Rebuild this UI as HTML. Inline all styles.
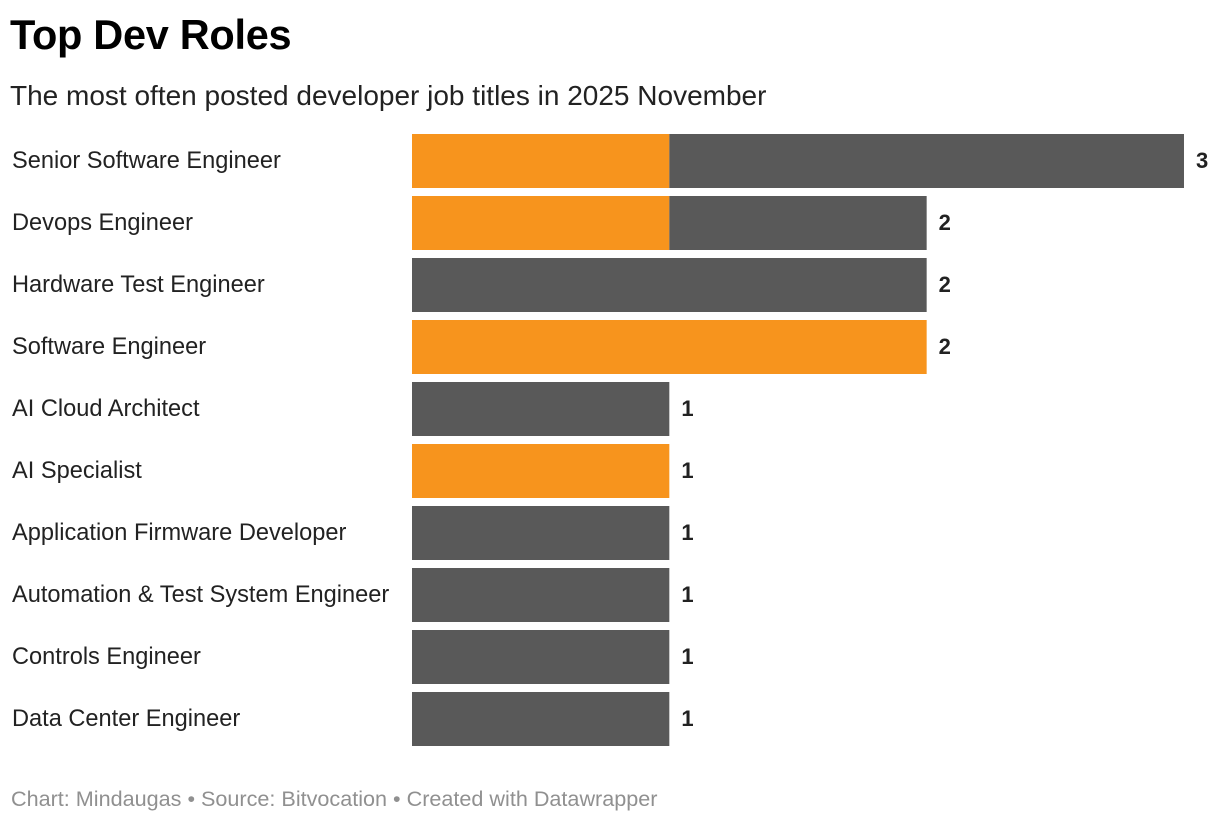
<!DOCTYPE html>
<html><head><meta charset="utf-8">
<style>
body{margin:0;background:#fff;width:1220px;height:822px;overflow:hidden;font-family:"Liberation Sans",Arial,sans-serif;}
#title{position:absolute;left:10px;top:11px;font-size:41.5px;font-weight:bold;color:#000;letter-spacing:-0.3px}
#sub{position:absolute;left:10px;top:80px;font-size:28px;color:#222}
#foot{position:absolute;left:11px;top:786px;font-size:21.6px;color:#909090}
svg{position:absolute;left:0;top:0}
</style></head><body>
<div id="title">Top Dev Roles</div>
<div id="sub">The most often posted developer job titles in 2025 November</div>
<svg id="chart" width="1220" height="822"></svg>
<div id="foot">Chart: Mindaugas • Source: Bitvocation • Created with Datawrapper</div>
<script>
const categories=["Senior Software Engineer","Devops Engineer","Hardware Test Engineer","Software Engineer","AI Cloud Architect","AI Specialist","Application Firmware Developer","Automation & Test System Engineer","Controls Engineer","Data Center Engineer"];
const orangeValues=[1,1,0,2,0,1,0,0,0,0];
const grayValues=[2,1,2,0,1,0,1,1,1,1];
const totals=[3,2,2,2,1,1,1,1,1,1];
const svg=document.getElementById('chart');
const NS='http://www.w3.org/2000/svg';
const x0=412,unit=257.33,top0=134,step=62,bh=54;
const x=v=>x0+v*unit;
const y=i=>top0+i*step;
categories.forEach((c,i)=>{
  const t=document.createElementNS(NS,'text');
  t.setAttribute('x',12);t.setAttribute('y',y(i)+bh/2+7);
  t.setAttribute('font-size','23.6');t.setAttribute('fill','#222');
  t.textContent=c;
  
  
  svg.appendChild(t);
  if(orangeValues[i]>0){
    const r=document.createElementNS(NS,'rect');
    r.setAttribute('x',x(0));r.setAttribute('y',y(i));
    r.setAttribute('width',x(orangeValues[i])-x(0));r.setAttribute('height',bh);
    r.setAttribute('fill','#f7941d');
    
    
    svg.appendChild(r);
  }
  if(grayValues[i]>0){
    const r=document.createElementNS(NS,'rect');
    r.setAttribute('x',x(orangeValues[i]));r.setAttribute('y',y(i));
    r.setAttribute('width',x(orangeValues[i]+grayValues[i])-x(orangeValues[i]));r.setAttribute('height',bh);
    r.setAttribute('fill','#595959');
    
    
    svg.appendChild(r);
  }
  const v=document.createElementNS(NS,'text');
  v.setAttribute('x',x(orangeValues[i]+grayValues[i])+12);v.setAttribute('y',y(i)+bh/2+7);
  v.setAttribute('font-size','22');v.setAttribute('font-weight','bold');v.setAttribute('fill','#222');
  v.textContent=totals[i];
  
  
  svg.appendChild(v);
});
</script>
</body></html>
